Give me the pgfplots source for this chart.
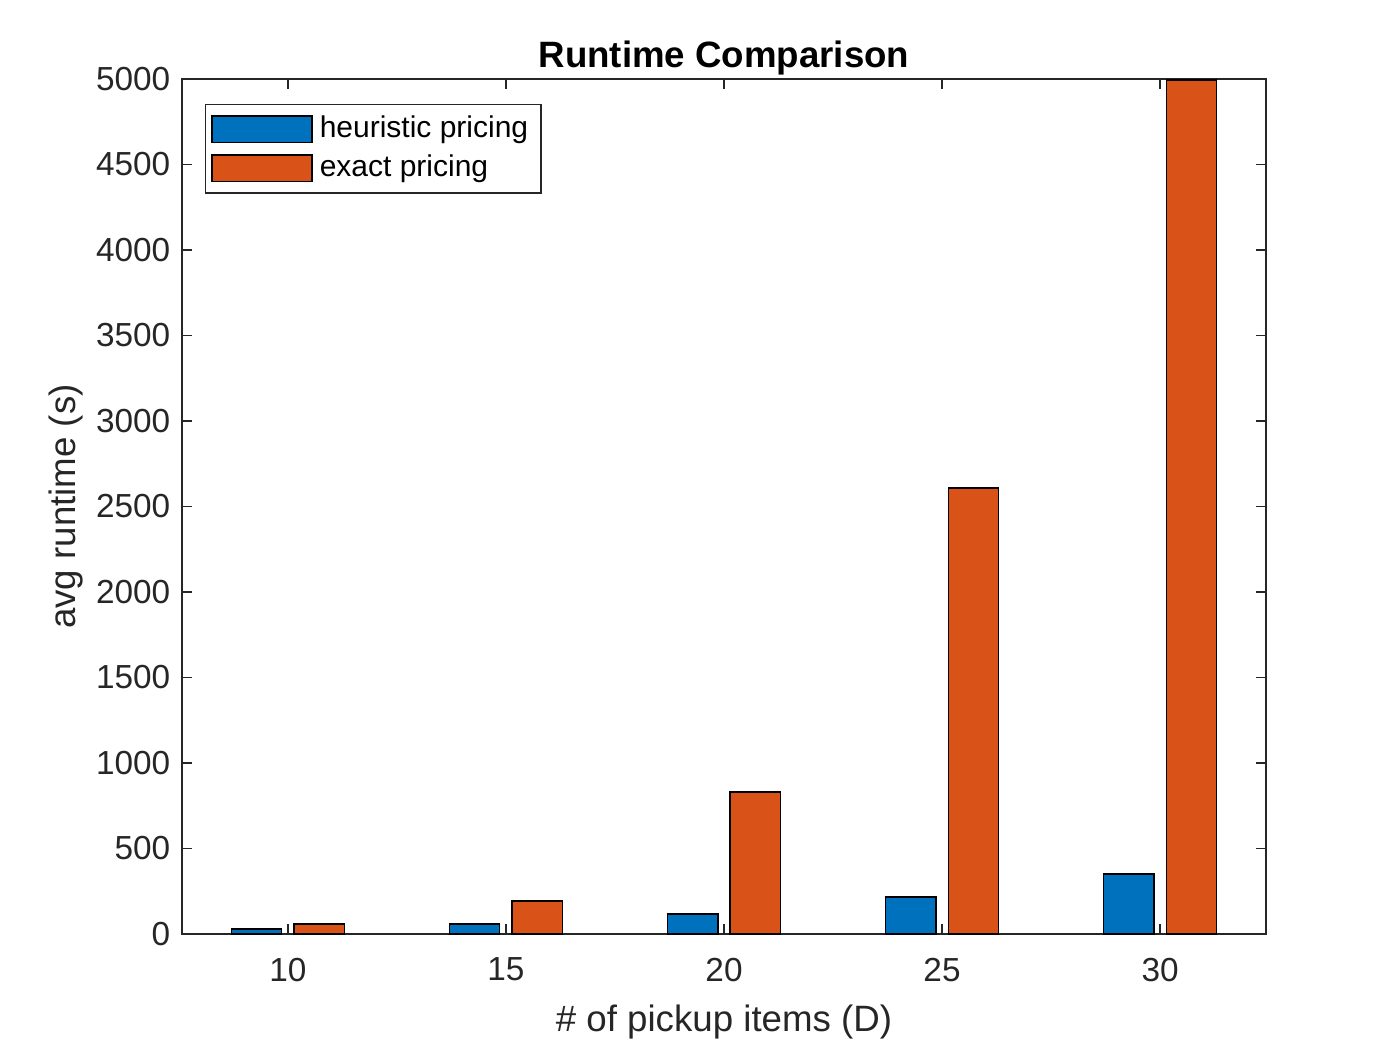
\documentclass[border=0pt]{standalone}
\usepackage{fontspec}
\setmainfont{Liberation Sans}
\usepackage{pgfplots}
\pgfplotsset{compat=1.18}
\definecolor{mblue}{rgb}{0,0.447,0.741}
\definecolor{morange}{rgb}{0.851,0.325,0.098}
\definecolor{axgray}{rgb}{0.15,0.15,0.15}
\begin{document}
\begin{tikzpicture}
\path[use as bounding box] (0,0) rectangle (420pt,315pt);
\begin{axis}[
  at={(54.6pt,34.8pt)}, anchor=south west,
  scale only axis, width=325.2pt, height=256.5pt,
  xmin=7.57, xmax=32.43, ymin=0, ymax=5000,
  xtick={10,15,20,25,30},
  ytick={0,500,...,5000},
  ybar, bar width=1.15,
  tick align=inside, xtick pos=both, ytick pos=both,
  major tick length=3pt,
  axis line style={axgray, line width=0.4pt},
  every tick/.style={axgray, line width=0.4pt},
  tick label style={font=\fontsize{10}{12}\selectfont, text=axgray},
  xticklabel style={yshift=-3.6pt},
  /pgf/number format/assume math mode=true,
  /pgf/number format/1000 sep={},
  scaled y ticks=false,
  xlabel={\# of pickup items (D)},
  ylabel={avg runtime (s)},
  xlabel style={yshift=-0.3pt},
  ylabel style={yshift=-3pt},
  label style={font=\fontsize{11}{13}\selectfont, text=axgray},
  title={\textbf{Runtime Comparison}},
  title style={font=\fontsize{11}{13}\selectfont, yshift=-8.5pt},
  legend style={at={(0.021,0.971)}, anchor=north west, draw=axgray, line width=0.4pt,
    font=\fontsize{9}{11}\selectfont, cells={anchor=west}, row sep=-0.3pt, inner xsep=1.8pt, inner ysep=1.4pt},
  legend image code/.code={\draw[#1] (0pt,-4pt) rectangle (30pt,4pt);},
  clip=false,
]
\addplot[fill=mblue, draw=black, line width=0.5pt, bar shift=-0.72] coordinates {(10,29) (15,58) (20,117) (25,215) (30,351)};
\addplot[fill=morange, draw=black, line width=0.5pt, bar shift=0.72] coordinates {(10,58) (15,193) (20,830) (25,2608) (30,4995)};
\legend{heuristic pricing, exact pricing}
\end{axis}
\end{tikzpicture}
\end{document}
